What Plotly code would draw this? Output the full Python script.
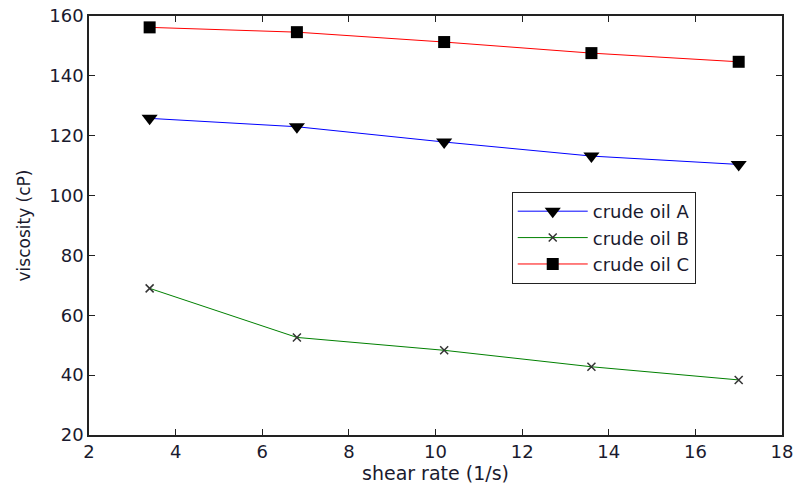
import plotly.graph_objects as go

shear_rate = [3.4, 6.8, 10.2, 13.6, 17.0]
oil_a = [125.8, 123.0, 117.9, 113.2, 110.4]
oil_b = [69.0, 52.6, 48.3, 42.8, 38.4]
oil_c = [156.2, 154.6, 151.3, 147.6, 144.7]

FONT = "DejaVu Sans, Liberation Sans, Arial, sans-serif"
TXT = "#1a1a2e"

fig = go.Figure()
fig.add_trace(go.Scatter(x=shear_rate, y=oil_a, mode="lines+markers", name="crude oil A",
                         line=dict(color="blue", width=1),
                         marker=dict(symbol="triangle-down", size=14, color="black")))
fig.add_trace(go.Scatter(x=shear_rate, y=oil_b, mode="lines+markers", name="crude oil B",
                         line=dict(color="green", width=1),
                         marker=dict(symbol="x-thin", size=8, color="#333",
                                     line=dict(color="#333", width=1.5))))
fig.add_trace(go.Scatter(x=shear_rate, y=oil_c, mode="lines+markers", name="crude oil C",
                         line=dict(color="red", width=1),
                         marker=dict(symbol="square", size=12, color="black")))

axis_common = dict(showline=True, linecolor="#222", linewidth=1.5, mirror="ticks",
                   ticks="inside", ticklen=6, tickcolor="#222", showgrid=False, zeroline=False,
                   automargin=False,
                   tickfont=dict(family=FONT, size=18, color=TXT))
fig.update_xaxes(range=[2, 18], dtick=2, title=dict(text="shear rate (1/s)", standoff=0,
                 font=dict(family=FONT, size=19, color=TXT)), **axis_common)
fig.update_yaxes(range=[20, 160], dtick=20, title=dict(text="viscosity (cP)", standoff=14,
                 font=dict(family=FONT, size=17, color=TXT)), **axis_common)

fig.update_layout(
    width=799, height=486,
    margin=dict(l=89, r=17, t=16, b=51),
    plot_bgcolor="white", paper_bgcolor="white",
    showlegend=True,
    legend=dict(x=0.61, y=0.58, xanchor="left", yanchor="top",
                bgcolor="white", bordercolor="#222", borderwidth=1,
                font=dict(family=FONT, size=18, color=TXT),
                tracegroupgap=0, itemwidth=70),
)
fig.write_html("out.html", config={"displayModeBar": False},
               post_script="document.body.style.margin='0';")
